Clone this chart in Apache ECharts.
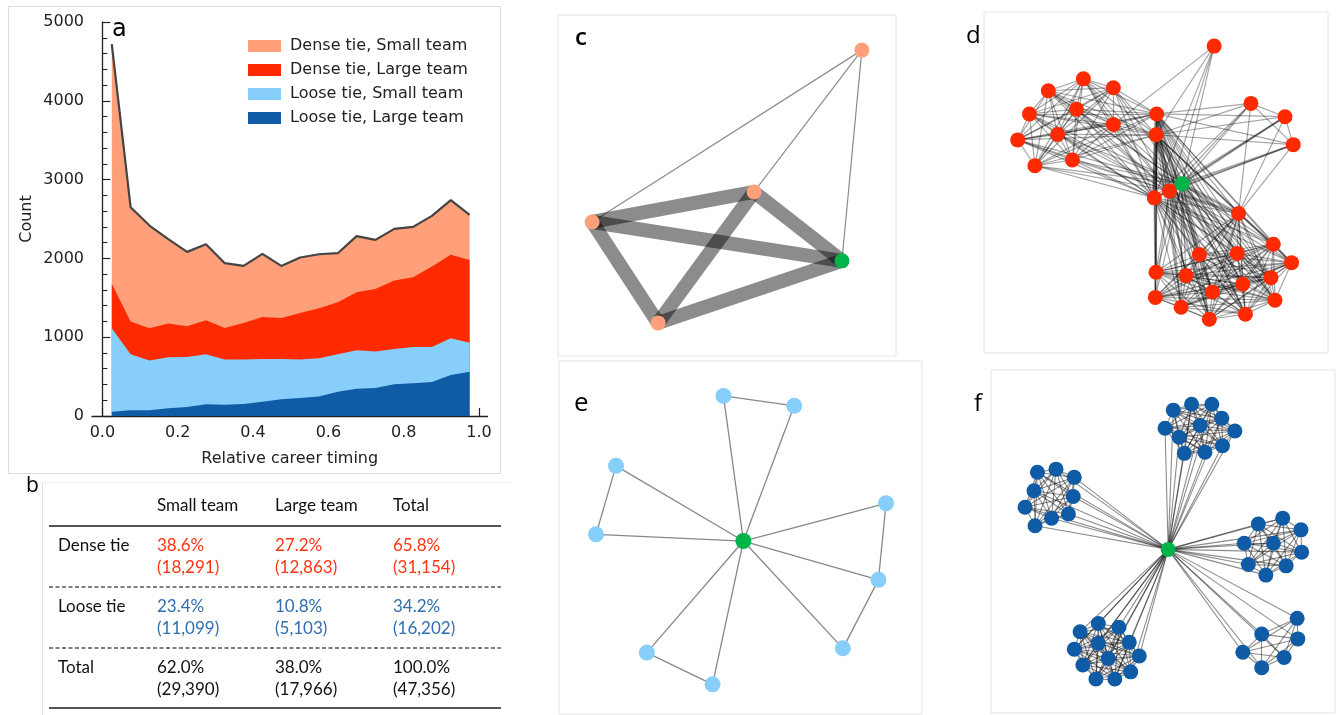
<!DOCTYPE html>
<html>
<head>
<meta charset="utf-8">
<script src="https://cdn.jsdelivr.net/npm/echarts@6/dist/echarts.min.js"></script>
<style>
  html, body { margin: 0; padding: 0; background: #fff; }
  #chart { width: 1338px; height: 715px; }
</style>
</head>
<body>
<div id="chart"></div>
<script>
// ---- panel a : counts by relative career timing ----
const timing = [0.025, 0.075, 0.125, 0.175, 0.225, 0.275, 0.325, 0.375, 0.425, 0.475,
                0.525, 0.575, 0.625, 0.675, 0.725, 0.775, 0.825, 0.875, 0.925, 0.975];
const looseLarge = [55, 72, 72, 97, 114, 148, 144, 152, 182, 212, 229, 246, 309, 347, 356, 402, 415, 432, 521, 563];
const looseSmall = [1058, 711, 631, 648, 635, 635, 572, 564, 542, 512, 487, 486, 474, 487, 461, 449, 461, 444, 465, 368];
const denseLarge = [564, 415, 410, 428, 390, 432, 402, 465, 533, 521, 592, 635, 661, 737, 796, 868, 885, 1021, 1059, 1050];
const denseSmall = [3043, 1452, 1304, 1071, 944, 965, 821, 724, 801, 660, 703, 686, 622, 711, 622, 656, 639, 643, 694, 572];
const seriesNames = ['Loose tie, Large team', 'Loose tie, Small team', 'Dense tie, Large team', 'Dense tie, Small team'];
const xTicks = [0, 0.2, 0.4, 0.6, 0.8, 1.0];
const xMinorTicks = [0.1, 0.3, 0.5, 0.7, 0.9];

// ---- panel b : table ----
const tableCols = ['Small team', 'Large team', 'Total'];
const tableRows = ['Dense tie', 'Loose tie', 'Total'];
const tableShare = [[38.6, 27.2, 65.8], [23.4, 10.8, 34.2], [62.0, 38.0, 100.0]];
const tableCount = [[18291, 12863, 31154], [11099, 5103, 16202], [29390, 17966, 47356]];

// ---- panel c : few strong ties (focal node last) ----
const cNodes = [[89.9, 10.3], [58.0, 51.9], [10.1, 60.7], [29.6, 90.3], [84.0, 72.1]];
const cStrong = [[1, 2], [2, 3], [1, 3], [2, 4], [1, 4], [3, 4]];
const cWeak = [[0, 2], [0, 1], [0, 4]];

// ---- panel d : dense large teams (focal node last) ----
const dNodes = [[66.9, 10.0], [28.9, 19.6], [18.7, 23.1], [37.6, 22.2], [13.2, 29.9], [26.9, 28.5],
  [50.2, 29.9], [77.6, 26.8], [87.5, 30.7], [37.6, 33.0], [21.4, 35.9], [50.0, 36.0], [9.8, 37.5],
  [89.9, 38.9], [25.7, 43.4], [14.8, 45.1], [53.9, 52.5], [49.5, 54.5], [74.0, 59.1], [84.1, 68.1],
  [62.6, 71.1], [73.6, 70.8], [89.4, 73.5], [50.0, 76.3], [58.7, 77.3], [75.2, 79.8], [83.4, 77.9],
  [66.4, 82.1], [49.8, 83.7], [84.6, 84.5], [57.3, 86.6], [76.0, 88.6], [65.5, 90.1], [57.6, 50.4]];
const dTeamA = [1, 2, 3, 4, 5, 9, 10, 12, 14, 15];
const dBridge = [6, 11, 16, 17, 33];
const dTeamB = [18, 19, 20, 21, 22, 23, 24, 25, 26, 27, 28, 29, 30, 31, 32];
const dTeamC = [7, 8, 13];
const dOutlier = [0, 9, 11, 16, 17, 33];
const dStrong = [[6, 17, 4], [11, 17, 4], [6, 11, 3], [33, 18, 3], [16, 18, 3], [33, 8, 2], [33, 13, 2], [17, 28, 1.6]];

// ---- panel e : loose small teams (focal node last) ----
const eNodes = [[45.3, 9.9], [64.8, 12.7], [15.7, 29.7], [10.2, 49.1], [90.1, 40.3], [88.0, 62.0],
  [78.2, 81.4], [24.2, 82.6], [42.3, 91.6], [50.8, 51.0]];
const ePairs = [[0, 1], [2, 3], [4, 5], [5, 6], [7, 8]];

// ---- panel f : loose large teams ----
const fFocal = [51.5, 52.3];
const fTeams = [
  [[53.0, 11.7], [58.3, 10.0], [64.2, 10.0], [67.1, 14.1], [70.9, 17.8], [50.6, 17.0], [54.7, 19.6], [60.8, 16.2], [56.2, 24.3], [62.2, 24.0], [67.3, 22.1]],
  [[13.5, 29.8], [18.9, 28.9], [24.2, 31.3], [12.5, 35.2], [23.9, 36.9], [9.9, 40.0], [22.5, 42.0], [17.6, 43.2], [12.8, 45.4]],
  [[77.7, 44.9], [84.8, 43.2], [90.1, 46.6], [73.6, 50.5], [82.1, 50.5], [90.3, 53.1], [74.8, 56.7], [85.8, 57.1], [79.9, 59.8]],
  [[31.2, 73.9], [37.2, 75.0], [25.9, 76.3], [40.2, 79.4], [31.2, 79.7], [24.2, 81.4], [34.1, 84.1], [43.1, 83.4], [26.7, 86.0], [40.6, 88.0], [30.5, 90.1], [36.0, 90.1]],
  [[89.0, 72.4], [78.7, 77.0], [89.2, 78.4], [73.2, 82.3], [85.2, 83.8], [78.7, 86.8]]
];

const colors = {
  looseLarge: '#0f5ba5', looseSmall: '#87cefa', denseLarge: '#ff2a00', denseSmall: '#ffa07a',
  focal: '#00b44a', redText: '#ff3512', blueText: '#2f6eb4'
};

// edge helper: keeps one link per pair
function makeLinker() {
  const seen = {};
  const links = [];
  function add(a, b, width) {
    if (a === b) return;
    const key = Math.min(a, b) + '-' + Math.max(a, b);
    if (seen[key]) return;
    seen[key] = true;
    const l = { source: a, target: b };
    if (width) l.lineStyle = { width: width };
    links.push(l);
  }
  function clique(list) {
    for (let i = 0; i < list.length; i++)
      for (let j = i + 1; j < list.length; j++) add(list[i], list[j]);
  }
  return { add, clique, links };
}

// panel c links
const cLink = makeLinker();
cStrong.forEach(p => cLink.add(p[0], p[1], 14));
cWeak.forEach(p => cLink.add(p[0], p[1], 1.2));

// panel d links
const dLink = makeLinker();
dStrong.forEach(p => dLink.add(p[0], p[1], p[2]));
dLink.clique(dTeamA.concat([6, 11]));
dBridge.forEach(h => {
  dTeamA.concat(dTeamB, dTeamC, dBridge).forEach(n => dLink.add(h, n));
});
dLink.clique(dTeamB);
dLink.clique(dTeamC);
dTeamC.forEach(n => dLink.add(18, n));
dOutlier.slice(1).forEach(n => dLink.add(dOutlier[0], n));

// panel e links
const eLink = makeLinker();
const eFocalIdx = eNodes.length - 1;
for (let i = 0; i < eFocalIdx; i++) eLink.add(i, eFocalIdx);
ePairs.forEach(p => eLink.add(p[0], p[1]));

// panel f nodes + links
const fNodes = [];
const fLink = makeLinker();
const fGroups = [];
fTeams.forEach(team => {
  const idx = [];
  team.forEach(pt => { idx.push(fNodes.length); fNodes.push(pt); });
  fGroups.push(idx);
});
fNodes.push(fFocal);
const fFocalIdx = fNodes.length - 1;
fGroups.forEach(g => { fLink.clique(g); g.forEach(n => fLink.add(n, fFocalIdx)); });

function netSeries(axisIdx, nodes, links, size, nodeColor, lineStyle) {
  return {
    type: 'graph',
    coordinateSystem: 'cartesian2d',
    xAxisIndex: axisIdx + 1,
    yAxisIndex: axisIdx,
    symbolSize: size,
    silent: true,
    animation: false,
    label: { show: false },
    lineStyle: lineStyle,
    data: nodes.map((p, i) => ({
      value: p,
      itemStyle: { color: i === nodes.length - 1 ? colors.focal : nodeColor }
    })),
    links: links
  };
}

// network frames (as grids)
const netFrames = [
  { left: 558, top: 15, width: 338, height: 341 },
  { left: 984, top: 12, width: 344, height: 341 },
  { left: 559, top: 361, width: 363, height: 353 },
  { left: 991, top: 370, width: 344, height: 343 }
];

const grids = [{ left: 92, top: 22, width: 395.5, height: 394 }];
netFrames.forEach(f => grids.push(Object.assign({ show: true, borderColor: '#e4e4e4', borderWidth: 1 }, f)));

const axisFont = { fontFamily: 'DejaVu Sans', fontSize: 16, color: '#222' };
const xAxes = [
  {
    type: 'value', gridIndex: 0, min: -0.0275, max: 1.0225, position: 'bottom',
    axisLine: { show: true, onZero: false, lineStyle: { color: '#222', width: 1.3 } },
    axisTick: { show: true, inside: true, length: 8, customValues: xTicks, lineStyle: { color: '#222', width: 1.2 } },
    axisLabel: Object.assign({ margin: 9, customValues: xTicks, formatter: v => v.toFixed(1) }, axisFont),
    splitLine: { show: false },
    name: 'Relative career timing', nameLocation: 'middle', nameGap: 35,
    nameTextStyle: axisFont
  },
  {
    type: 'value', gridIndex: 0, min: -0.0275, max: 1.0225, position: 'bottom',
    axisLine: { show: false },
    axisTick: { show: true, inside: true, length: 4, customValues: xMinorTicks, lineStyle: { color: '#222', width: 1.1 } },
    axisLabel: { show: false },
    splitLine: { show: false }
  }
];
const yAxes = [
  {
    type: 'value', gridIndex: 0, min: 0, max: 5000, interval: 1000,
    axisLine: { show: true, lineStyle: { color: '#222', width: 1.3 } },
    axisTick: { show: true, inside: true, length: 8, lineStyle: { color: '#222', width: 1.2 } },
    minorTick: { show: true, splitNumber: 5, length: 5, lineStyle: { color: '#222', width: 1.1 } },
    axisLabel: Object.assign({ margin: 8, formatter: v => String(v) }, axisFont),
    splitLine: { show: false },
    name: 'Count', nameLocation: 'middle', nameGap: 57, nameRotate: 90,
    nameTextStyle: axisFont
  }
];
netFrames.forEach((f, i) => {
  xAxes.push({ type: 'value', gridIndex: i + 1, min: 0, max: 100, show: false });
  yAxes.push({ type: 'value', gridIndex: i + 1, min: 0, max: 100, inverse: true, show: false });
});

// stacked areas: draw each layer's cumulative top down to 0, topmost layer first
const layers = [looseLarge, looseSmall, denseLarge, denseSmall];
const layerColors = [colors.looseLarge, colors.looseSmall, colors.denseLarge, colors.denseSmall];
const cumulative = [];
layers.forEach((vals, k) => {
  cumulative.push(vals.map((v, i) => v + (k > 0 ? cumulative[k - 1][i] : 0)));
});

function areaSeries(k, line) {
  return {
    name: seriesNames[k],
    type: 'line',
    xAxisIndex: 0, yAxisIndex: 0,
    data: timing.map((t, i) => [t, cumulative[k][i]]),
    showSymbol: false,
    symbol: 'none',
    z: 2 + (4 - k) * 0.01,
    itemStyle: { color: layerColors[k] },
    areaStyle: { color: layerColors[k], opacity: 1, origin: 0 },
    lineStyle: line || { width: 0, opacity: 0 },
    animation: false,
    silent: true
  };
}

const series = [
  areaSeries(3, { color: '#444', width: 2.2 }),
  areaSeries(2),
  areaSeries(1),
  areaSeries(0),
  netSeries(1, cNodes, cLink.links, 15, colors.denseSmall, { color: '#000', opacity: 0.45, width: 1.2, curveness: 0 }),
  netSeries(2, dNodes, dLink.links, 15, colors.denseLarge, { color: '#000', opacity: 0.35, width: 1.2, curveness: 0 }),
  netSeries(3, eNodes, eLink.links, 16, colors.looseSmall, { color: '#888', opacity: 1, width: 1.3, curveness: 0 }),
  netSeries(4, fNodes, fLink.links, 15, colors.looseLarge, { color: '#000', opacity: 0.45, width: 1.1, curveness: 0 })
];

// ---- graphics: frames, panel letters, table ----
const graphics = [];
graphics.push({ type: 'rect', shape: { x: 8.5, y: 6.5, width: 492, height: 467 }, style: { fill: 'none', stroke: '#dcdcdc', lineWidth: 1 }, silent: true });
graphics.push({ type: 'line', shape: { x1: 42.5, y1: 482.5, x2: 42.5, y2: 715 }, style: { stroke: '#e2e2e2', lineWidth: 1 }, silent: true });
graphics.push({ type: 'line', shape: { x1: 42.5, y1: 482.5, x2: 510, y2: 482.5 }, style: { stroke: '#eeeeee', lineWidth: 1 }, silent: true });

function letter(txt, x, y, size, weight, family) {
  graphics.push({ type: 'text', x: x, y: y, silent: true,
    style: { text: txt, fontSize: size, fontWeight: weight || 'normal', fontFamily: family || 'Open Sans', fill: '#000', align: 'left', verticalAlign: 'middle' } });
}
letter('a', 112, 30, 24, 'normal', 'DejaVu Sans');
letter('b', 26, 486, 21);
letter('c', 575, 38, 24, 600);
letter('d', 966, 36, 24);
letter('e', 574, 404, 26);
letter('f', 974, 404, 24);

const tableFont = 'Lato';
const tableSize = 17;
const colX = [157, 275, 393];
const rowY = [546, 607, 668];
const lineGap = 22;
tableCols.forEach((c, j) => {
  graphics.push({ type: 'text', x: colX[j], y: 506, silent: true,
    style: { text: c, fontSize: tableSize, fontFamily: tableFont, fill: '#111', verticalAlign: 'middle' } });
});
tableRows.forEach((r, i) => {
  graphics.push({ type: 'text', x: 58, y: rowY[i], silent: true,
    style: { text: r, fontSize: tableSize, fontFamily: tableFont, fill: '#111', verticalAlign: 'middle' } });
  const fill = i === 0 ? colors.redText : (i === 1 ? colors.blueText : '#111');
  tableShare[i].forEach((v, j) => {
    graphics.push({ type: 'text', x: colX[j], y: rowY[i], silent: true,
      style: { text: v.toFixed(1) + '%', fontSize: tableSize, fontFamily: tableFont, fill: fill, verticalAlign: 'middle' } });
    graphics.push({ type: 'text', x: colX[j], y: rowY[i] + lineGap, silent: true,
      style: { text: '(' + tableCount[i][j].toLocaleString('en-US') + ')', fontSize: tableSize, fontFamily: tableFont, fill: fill, verticalAlign: 'middle' } });
  });
});
[[526, false], [587, true], [648, true], [708, false]].forEach(r => {
  graphics.push({ type: 'line', silent: true, shape: { x1: 49, y1: r[0], x2: 501, y2: r[0] },
    style: { stroke: '#555', lineWidth: r[1] ? 1.4 : 2, lineDash: r[1] ? [4, 2.5] : null } });
});

const chart = echarts.init(document.getElementById('chart'));
chart.setOption({
  backgroundColor: '#fff',
  animation: false,
  grid: grids,
  xAxis: xAxes,
  yAxis: yAxes,
  legend: {
    data: [seriesNames[3], seriesNames[2], seriesNames[1], seriesNames[0]],
    orient: 'vertical', left: 243, top: 33,
    icon: 'rect', itemWidth: 33, itemHeight: 12, itemGap: 8,
    selectedMode: false,
    textStyle: { fontFamily: 'DejaVu Sans', fontSize: 16, color: '#222', padding: [0, 0, 0, 4] }
  },
  series: series,
  graphic: graphics
});
</script>
</body>
</html>
